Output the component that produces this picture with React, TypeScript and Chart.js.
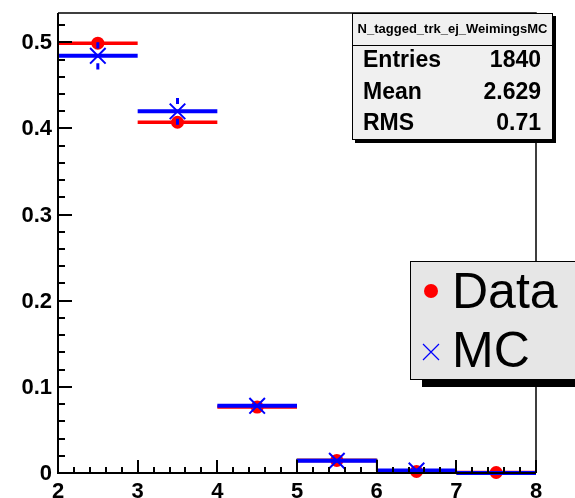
import React, { useEffect, useRef } from "react";
import { Chart, registerables } from "chart.js";

Chart.register(...registerables);

// ---- data ----
const binEdges = [2, 3, 4, 5, 6, 7, 8];
const dataValues = [0.499, 0.4072, 0.0765, 0.0146, 0.0018, 0.0006];
const dataErrors = [0.005, 0.005, 0.004, 0.002, 0.001, 0.0005];
const mcValues = [0.4843, 0.4198, 0.078, 0.0142, 0.0028, 0.0];
const mcErrors = [0.0158, 0.0155, 0.006, 0.003, 0.001, 0];
const outlineValues = [0, 0, 0, 0.0157, 0.003, 0];
const yMajorTicks = [0, 0.1, 0.2, 0.3, 0.4, 0.5];
const yTickLabels = ["0", "0.1", "0.2", "0.3", "0.4", "0.5"];
const xMajorTicks = [2, 3, 4, 5, 6, 7, 8];
const xTickLabels = ["2", "3", "4", "5", "6", "7", "8"];
const statsTitle = "N_tagged_trk_ej_WeimingsMC";
const statsLabels = ["Entries", "Mean", "RMS"];
const statsValues = ["1840", "2.629", "0.71"];
const legendLabels = ["Data", "MC"];

const Y_MAX = 0.534;
const RED = "#ff0000";
const BLUE = "#0000ff";
const FONT = "'Liberation Sans', Arial, Helvetica, sans-serif";

type P = { x: number; y: number | null };

function hBars(vals: number[]): P[] {
  const pts: P[] = [];
  vals.forEach((v, i) => {
    pts.push({ x: binEdges[i], y: v }, { x: binEdges[i + 1], y: v }, { x: binEdges[i + 1], y: null });
  });
  return pts;
}

function vBars(vals: number[], errs: number[], gap: number): P[] {
  const pts: P[] = [];
  vals.forEach((v, i) => {
    const c = (binEdges[i] + binEdges[i + 1]) / 2;
    const e = errs[i];
    if (e > gap) {
      pts.push({ x: c, y: v + gap }, { x: c, y: v + e }, { x: c, y: null });
      pts.push({ x: c, y: v - e }, { x: c, y: v - gap }, { x: c, y: null });
    }
  });
  return pts;
}

function markers(vals: number[]): P[] {
  return vals
    .map((v, i) => ({ x: (binEdges[i] + binEdges[i + 1]) / 2, y: v > 0 ? v : null }))
    .filter((p) => p.y !== null);
}

function outline(vals: number[]): P[] {
  const pts: P[] = [];
  vals.forEach((v, i) => {
    pts.push({ x: binEdges[i], y: v }, { x: binEdges[i + 1], y: v });
  });
  return pts;
}

const decorPlugin = {
  id: "rootDecor",
  afterDatasetsDraw(chart: any) {
    const ctx: CanvasRenderingContext2D = chart.ctx;
    const xs = chart.scales.x;
    const ys = chart.scales.y;
    const { left, right, top, bottom } = chart.chartArea;
    ctx.save();
    ctx.strokeStyle = "#000";
    ctx.fillStyle = "#000";

    // frame
    ctx.lineWidth = 1.5;
    ctx.beginPath();
    ctx.moveTo(left, top);
    ctx.lineTo(right, top);
    ctx.lineTo(right, bottom);
    ctx.stroke();
    ctx.lineWidth = 2;
    ctx.beginPath();
    ctx.moveTo(left, top);
    ctx.lineTo(left, bottom);
    ctx.lineTo(right, bottom);
    ctx.stroke();

    // y ticks
    ctx.lineWidth = 2;
    const yStep = yMajorTicks[1] - yMajorTicks[0];
    for (let k = 0; k * yStep / 5 <= Y_MAX + 1e-9; k++) {
      const v = (k * yStep) / 5;
      const py = Math.round(ys.getPixelForValue(v));
      const len = k % 5 === 0 ? 14 : 7;
      ctx.beginPath();
      ctx.moveTo(left, py);
      ctx.lineTo(left + len, py);
      ctx.stroke();
    }
    // x ticks
    const xStep = xMajorTicks[1] - xMajorTicks[0];
    const xMin = xMajorTicks[0];
    const xMax = xMajorTicks[xMajorTicks.length - 1];
    for (let k = 0; xMin + (k * xStep) / 5 <= xMax + 1e-9; k++) {
      const v = xMin + (k * xStep) / 5;
      const px = Math.round(xs.getPixelForValue(v));
      const len = k % 5 === 0 ? 13 : 6;
      ctx.beginPath();
      ctx.moveTo(px, bottom);
      ctx.lineTo(px, bottom - len);
      ctx.stroke();
    }

    // tick labels
    ctx.font = `bold 22px ${FONT}`;
    ctx.textAlign = "right";
    ctx.textBaseline = "middle";
    yMajorTicks.forEach((v, i) => {
      ctx.fillText(yTickLabels[i], left - 6, ys.getPixelForValue(v) + 1);
    });
    ctx.textAlign = "center";
    ctx.textBaseline = "alphabetic";
    xMajorTicks.forEach((v, i) => {
      ctx.fillText(xTickLabels[i], xs.getPixelForValue(v), 498);
    });

    // stats box
    const sx = 352, sy = 13, sw = 201, sh = 127;
    ctx.fillStyle = "#000";
    ctx.fillRect(sx + 3, sy + 3, sw, sh);
    ctx.fillStyle = "#f0f0f0";
    ctx.fillRect(sx, sy, sw, sh);
    ctx.lineWidth = 1;
    ctx.strokeStyle = "#000";
    ctx.strokeRect(sx + 0.5, sy + 0.5, sw - 1, sh - 1);
    ctx.beginPath();
    ctx.moveTo(sx, 45.5);
    ctx.lineTo(sx + sw, 45.5);
    ctx.stroke();
    ctx.fillStyle = "#000";
    ctx.font = `bold 13px ${FONT}`;
    ctx.textAlign = "center";
    ctx.textBaseline = "middle";
    ctx.fillText(statsTitle, sx + sw / 2, 29);
    ctx.font = `bold 23px ${FONT}`;
    const rowY = [61, 93, 124];
    statsLabels.forEach((lab, i) => {
      ctx.textAlign = "left";
      ctx.fillText(lab, 363, rowY[i]);
      ctx.textAlign = "right";
      ctx.fillText(statsValues[i], 541, rowY[i]);
    });

    // legend box
    const lx = 410, ly = 261, lw = 180, lh = 119;
    ctx.fillStyle = "#000";
    ctx.fillRect(lx + 12, ly + 7, lw, lh);
    ctx.fillStyle = "#e6e6e6";
    ctx.fillRect(lx, ly, lw, lh);
    ctx.strokeStyle = "#000";
    ctx.lineWidth = 1;
    ctx.strokeRect(lx + 0.5, ly + 0.5, lw, lh - 1);
    // data marker
    ctx.fillStyle = RED;
    ctx.beginPath();
    ctx.arc(431, 291, 7, 0, Math.PI * 2);
    ctx.fill();
    // mc marker
    ctx.strokeStyle = BLUE;
    ctx.lineWidth = 1.2;
    ctx.beginPath();
    ctx.moveTo(423, 344);
    ctx.lineTo(439, 360);
    ctx.moveTo(439, 344);
    ctx.lineTo(423, 360);
    ctx.stroke();
    ctx.fillStyle = "#000";
    ctx.font = `50px ${FONT}`;
    ctx.textAlign = "left";
    ctx.textBaseline = "alphabetic";
    ctx.fillText(legendLabels[0], 452, 308);
    ctx.fillText(legendLabels[1], 452, 367);

    ctx.restore();
  },
};

export default function App() {
  const ref = useRef<HTMLCanvasElement | null>(null);
  useEffect(() => {
    document.body.style.margin = "0";
    if (!ref.current) return;
    const chart = new Chart(ref.current, {
      type: "line",
      data: {
        datasets: [
          {
            label: "MC markers",
            data: markers(mcValues),
            showLine: false,
            pointStyle: "crossRot",
            pointRadius: 11,
            pointBorderWidth: 2,
            pointBorderColor: BLUE,
            pointBackgroundColor: BLUE,
            order: 0,
          },
          {
            label: "MC bars",
            data: hBars(mcValues),
            borderColor: BLUE,
            borderWidth: 4,
            pointRadius: 0,
            spanGaps: false,
            clip: false,
            order: 1,
          },
          {
            label: "MC errors",
            data: vBars(mcValues, mcErrors, 0.0085),
            borderColor: BLUE,
            borderWidth: 3,
            pointRadius: 0,
            spanGaps: false,
            clip: false,
            order: 1,
          },
          {
            label: "Data markers",
            data: markers(dataValues),
            showLine: false,
            pointStyle: "circle",
            pointRadius: 6.5,
            pointBorderWidth: 0,
            pointBackgroundColor: RED,
            pointBorderColor: RED,
            clip: false,
            order: 2,
          },
          {
            label: "Data bars",
            data: hBars(dataValues),
            borderColor: RED,
            borderWidth: 3.5,
            pointRadius: 0,
            spanGaps: false,
            clip: false,
            order: 3,
          },
          {
            label: "Data errors",
            data: vBars(dataValues, dataErrors, 0),
            borderColor: RED,
            borderWidth: 3,
            pointRadius: 0,
            spanGaps: false,
            clip: false,
            order: 3,
          },
          {
            label: "Histogram",
            data: outline(outlineValues),
            borderColor: "#000",
            borderWidth: 1.5,
            pointRadius: 0,
            order: 4,
          },
        ] as any,
      },
      options: {
        animation: false,
        responsive: false,
        maintainAspectRatio: false,
        devicePixelRatio: 1,
        parsing: false as any,
        layout: { padding: { left: 58, right: 39, top: 12, bottom: 25 } },
        scales: {
          x: { type: "linear", min: 2, max: 8, display: false },
          y: { type: "linear", min: 0, max: Y_MAX, display: false },
        },
        plugins: { legend: { display: false }, tooltip: { enabled: false } },
        elements: { line: { tension: 0 } },
      },
      plugins: [decorPlugin],
    });
    return () => chart.destroy();
  }, []);
  return (
    <canvas
      ref={ref}
      width={575}
      height={498}
      style={{ display: "block", width: 575, height: 498, background: "#fff" }}
    />
  );
}
